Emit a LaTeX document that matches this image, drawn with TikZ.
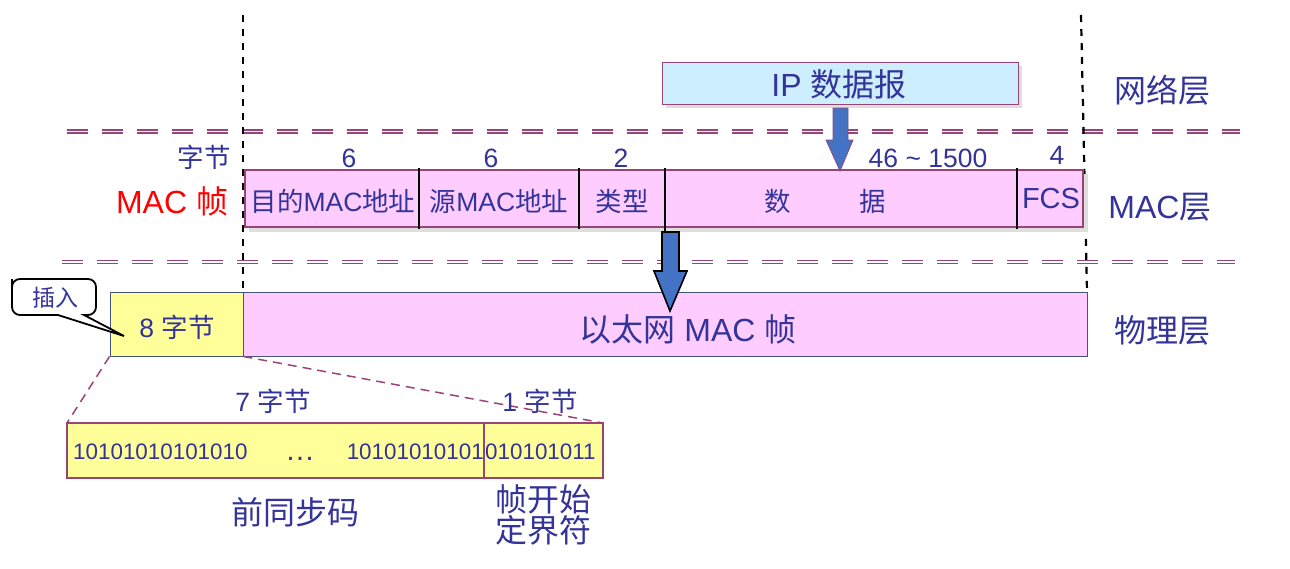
\documentclass[tikz,border=0pt]{standalone}
\usepackage{fontspec}
\setmainfont{Liberation Sans}
\newfontfamily\cjk{Noto Sans CJK SC}
\newcommand\zh[1]{{\cjk #1}}
\definecolor{tb}{RGB}{51,51,153}
\definecolor{mauve}{RGB}{153,68,119}
\definecolor{pinkf}{RGB}{255,204,255}
\definecolor{yel}{RGB}{255,255,153}
\definecolor{lblue}{RGB}{204,238,255}
\definecolor{ablue}{RGB}{68,114,196}
\definecolor{slate}{RGB}{68,85,119}
\definecolor{shad}{RGB}{222,222,222}
\tikzset{
  big/.style={font=\fontsize{32}{36}\selectfont, text=tb, inner sep=0},
  mid/.style={font=\fontsize{26.5}{30}\selectfont, text=tb, inner sep=0},
  bits/.style={font=\fontsize{22.4}{26}\selectfont, text=tb, inner sep=0},
  layersep/.style={draw=mauve, line width=1.2pt, double=white, double distance=1.8pt, dash pattern=on 21pt off 14pt},
  vdash/.style={black, line width=2.2pt, dash pattern=on 7pt off 7pt},
  divider/.style={black, line width=1.6pt},
  blockarrow/.style={fill=ablue},
  zoomline/.style={mauve, line width=1.5pt, dash pattern=on 9pt off 6pt},
}
\begin{document}
\begin{tikzpicture}[x=1pt,y=-1pt]
\useasboundingbox (0,0) rectangle (1290,568);
% layer separators
\draw[layersep] (67,131.5) -- (1240,131.5);
\draw[layersep] (62,262) -- (1235,262);
% vertical dashed guides
\draw[vdash] (243,15) -- (243,292);
\draw[vdash] (1081,15) -- (1087,292);
% IP datagram
\fill[shad] (666,66) rectangle (1022,108);
\node[draw=mauve, fill=lblue, line width=1pt, minimum width=356, minimum height=42, inner sep=0] (ip) at (840,83) {};
\node[big] (iptext) at (839,84) {IP \zh{数据报}};
% MAC frame
\fill[shad] (249,174) rectangle (1088,232);
\node[draw=mauve, fill=pinkf, line width=2pt, minimum width=838, minimum height=57, inner sep=0] (mac) at (664,198.5) {};
\draw[divider] (419,168) -- (419,229);
\draw[divider] (579,168) -- (579,229);
\draw[divider] (665,168) -- (665,232);
\draw[divider] (1017,168) -- (1017,229);
\node[mid] (f1) at (333,201) {\zh{目的}MAC\zh{地址}};
\node[mid] (f2) at (499,201) {\zh{源}MAC\zh{地址}};
\node[mid] (f3) at (622,201) {\zh{类型}};
\node[mid] (f4a) at (778,201) {\zh{数}};
\node[mid] (f4b) at (873,201) {\zh{据}};
\node[font=\fontsize{29}{32}\selectfont, text=tb, inner sep=0] (f5) at (1051,199) {FCS};
% byte counts
\node[mid] (n1) at (349,158) {6};
\node[mid] (n2) at (491,158) {6};
\node[mid] (n3) at (621,158) {2};
\node[mid] (n4) at (928,158) {46 \char"007E\ 1500};
\node[mid] (n5) at (1057,155) {4};
\node[mid] (bytes) at (204,157) {\zh{字节}};
\node[big, text=red] (macframe) at (172,201) {MAC \zh{帧}};
% layer labels
\node[big] (l1) at (1162,90) {\zh{网络层}};
\node[big] (l2) at (1160,207) {MAC\zh{层}};
\node[big] (l3) at (1162,330) {\zh{物理层}};
% arrow IP -> data
\draw[blockarrow, draw=mauve, line width=0.8pt] (833,108) -- (848,108) -- (848,140) -- (853,140) -- (840,171) -- (826,140) -- (833,140) -- cycle;
% physical layer
\node[draw=slate, fill=yel, line width=1pt, minimum width=133, minimum height=64, inner sep=0] (pre) at (176.5,324) {};
\node[mid] (pretext) at (177,327) {8 \zh{字节}};
\node[draw=slate, fill=pinkf, line width=1pt, minimum width=844, minimum height=64, inner sep=0] (phy) at (665,324) {};
\node[big] (phytext) at (688,329) {\zh{以太网} MAC \zh{帧}};
% arrow MAC -> physical
\draw[blockarrow, draw=black, line width=1.6pt] (662,232) -- (679,232) -- (679,271) -- (687,271) -- (670,311) -- (654,271) -- (662,271) -- cycle;
% callout
\draw[fill=white, line width=1.8pt] (12,287) [rounded corners=8pt] -- (12,279) -- (96,279) -- (96,315) [sharp corners] -- (84,315) -- (124,336) -- (58,315) [rounded corners=8pt] -- (12,315) -- cycle;
\node[font=\fontsize{23}{26}\selectfont, text=tb, inner sep=0] (ins) at (55,298) {\zh{插入}};
% zoom lines
\draw[zoomline] (pre.south west) -- (67,423);
\draw[zoomline] (pre.south east) -- (603,423);
% preamble + SFD
\node[draw=mauve, fill=yel, line width=1.5pt, minimum width=536, minimum height=55, inner sep=0] (bitsbox) at (335,450.5) {};
\draw[mauve, line width=1.5pt] (484,423) -- (484,478);
\node[bits, anchor=west] (b1) at (73,452) {10101010101010};
\node[font=\fontsize{30}{32}\selectfont, text=tb, inner sep=0] (b2) at (300,459) {…};
\node[bits, anchor=east] (b3) at (484,452) {10101010101};
\node[bits, anchor=west] (b4) at (485,452) {010101011};
\node[mid] (s7) at (273,401) {7 \zh{字节}};
\node[mid] (s1) at (540,401) {1 \zh{字节}};
\node[big] (pname) at (295,512) {\zh{前同步码}};
\node[big, align=center, font=\fontsize{32}{31}\selectfont] (sfd) at (543,515) {\zh{帧开始}\\\zh{定界符}};
\end{tikzpicture}
\end{document}
